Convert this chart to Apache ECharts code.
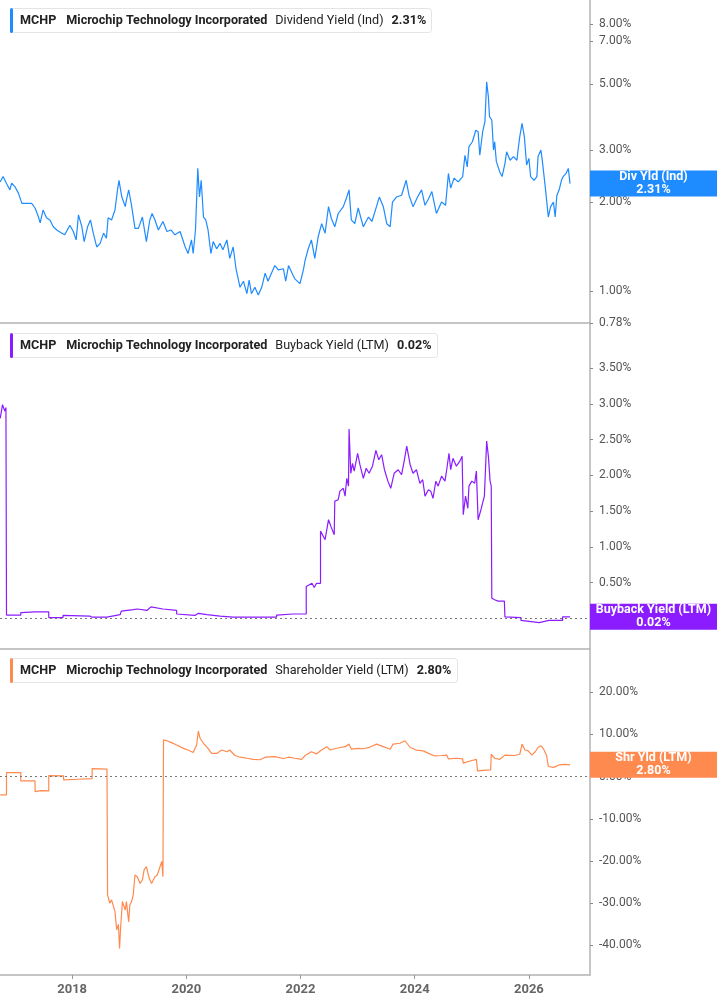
<!DOCTYPE html>
<html><head><meta charset="utf-8">
<script src="https://cdn.jsdelivr.net/npm/echarts@6/dist/echarts.min.js"></script>
<style>html,body{margin:0;padding:0;background:#fff}#c{width:717px;height:1005px}</style>
</head><body><div id="c"></div>
<script>
// ---------- data ----------
const xTickYears = [2018, 2020, 2022, 2024, 2026];
const divTicks = [0.78, 1, 2, 3, 5, 7, 8];
const buyTicks = [0, 0.5, 1, 1.5, 2, 2.5, 3, 3.5];
const shrTicks = [-40, -30, -20, -10, 0, 10, 20];

const ticker = 'MCHP';
const company = 'Microchip Technology Incorporated';
const metricNames = ['Dividend Yield (Ind)', 'Buyback Yield (LTM)', 'Shareholder Yield (LTM)'];
const badgeNames = ['Div Yld (Ind)', 'Buyback Yield (LTM)', 'Shr Yld (LTM)'];

// [decimal year, %]
const divSeries = [[2016.74,2.34],[2016.79,2.44],[2016.85,2.31],[2016.91,2.20],[2016.94,2.32],[2017.00,2.25],[2017.06,2.14],[2017.12,1.98],[2017.20,1.98],[2017.29,1.98],[2017.35,1.91],[2017.41,1.78],[2017.44,1.70],[2017.49,1.88],[2017.55,1.77],[2017.61,1.74],[2017.67,1.65],[2017.73,1.61],[2017.82,1.57],[2017.87,1.55],[2017.96,1.67],[2018.02,1.59],[2018.07,1.49],[2018.11,1.81],[2018.17,1.65],[2018.21,1.47],[2018.27,1.65],[2018.32,1.74],[2018.37,1.57],[2018.43,1.41],[2018.49,1.45],[2018.55,1.57],[2018.60,1.51],[2018.63,1.77],[2018.69,1.74],[2018.75,1.88],[2018.79,2.17],[2018.82,2.37],[2018.87,2.08],[2018.93,1.93],[2018.95,2.03],[2018.99,2.20],[2019.04,1.95],[2019.10,1.63],[2019.16,1.63],[2019.23,1.78],[2019.30,1.47],[2019.36,1.74],[2019.40,1.83],[2019.45,1.74],[2019.51,1.61],[2019.59,1.72],[2019.66,1.59],[2019.73,1.61],[2019.80,1.55],[2019.89,1.59],[2019.98,1.41],[2020.03,1.34],[2020.09,1.49],[2020.12,1.34],[2020.16,1.61],[2020.20,2.60],[2020.23,2.08],[2020.26,2.37],[2020.30,1.78],[2020.34,1.74],[2020.38,1.61],[2020.43,1.34],[2020.47,1.47],[2020.53,1.39],[2020.59,1.45],[2020.64,1.38],[2020.71,1.49],[2020.76,1.29],[2020.82,1.41],[2020.87,1.19],[2020.94,1.03],[2021.00,1.08],[2021.06,0.98],[2021.10,1.09],[2021.14,0.98],[2021.20,1.03],[2021.26,0.97],[2021.32,1.03],[2021.38,1.15],[2021.43,1.08],[2021.49,1.15],[2021.55,1.22],[2021.61,1.18],[2021.70,1.19],[2021.74,1.08],[2021.79,1.22],[2021.87,1.13],[2021.90,1.10],[2021.99,1.06],[2022.05,1.18],[2022.08,1.27],[2022.13,1.38],[2022.19,1.49],[2022.25,1.29],[2022.31,1.53],[2022.37,1.69],[2022.43,1.57],[2022.49,1.93],[2022.54,1.76],[2022.60,1.65],[2022.66,1.83],[2022.75,1.93],[2022.81,2.08],[2022.85,2.20],[2022.89,1.74],[2022.95,1.69],[2023.01,1.91],[2023.10,1.65],[2023.19,1.78],[2023.25,1.72],[2023.33,1.93],[2023.38,2.08],[2023.45,1.93],[2023.51,1.69],[2023.57,1.65],[2023.61,2.00],[2023.68,2.08],[2023.77,2.11],[2023.85,2.37],[2023.90,2.11],[2023.97,1.93],[2024.05,2.08],[2024.12,2.20],[2024.18,1.95],[2024.24,2.05],[2024.30,2.17],[2024.38,1.83],[2024.47,2.00],[2024.54,1.95],[2024.59,2.50],[2024.63,2.23],[2024.69,2.41],[2024.76,2.34],[2024.84,2.44],[2024.88,2.88],[2024.92,2.63],[2024.95,3.08],[2025.01,3.20],[2025.07,3.50],[2025.11,3.46],[2025.14,2.88],[2025.19,3.46],[2025.23,3.74],[2025.26,5.10],[2025.29,4.54],[2025.31,3.89],[2025.35,3.79],[2025.38,3.00],[2025.40,3.20],[2025.43,2.74],[2025.49,2.53],[2025.53,2.44],[2025.58,2.70],[2025.61,2.96],[2025.67,2.77],[2025.73,2.85],[2025.79,2.77],[2025.81,3.00],[2025.84,3.33],[2025.88,3.69],[2025.92,3.33],[2025.96,2.67],[2026.00,2.81],[2026.03,2.44],[2026.09,2.37],[2026.14,2.44],[2026.16,2.85],[2026.21,3.00],[2026.23,2.81],[2026.28,2.31],[2026.31,2.03],[2026.34,1.78],[2026.38,1.93],[2026.43,2.00],[2026.46,1.78],[2026.49,2.11],[2026.53,2.20],[2026.57,2.37],[2026.60,2.44],[2026.65,2.50],[2026.69,2.60],[2026.72,2.31]];

const buybackSeries = [[2016.74,2.80],[2016.78,2.99],[2016.82,2.90],[2016.84,2.95],[2016.85,0.045],[2017.10,0.045],[2017.10,0.08],[2017.35,0.09],[2017.59,0.09],[2017.59,0.01],[2017.84,0.01],[2017.84,0.04],[2018.31,0.03],[2018.35,0.015],[2018.61,0.015],[2018.61,0.04],[2018.84,0.05],[2018.86,0.10],[2019.07,0.12],[2019.14,0.13],[2019.31,0.11],[2019.38,0.16],[2019.59,0.13],[2019.83,0.11],[2019.83,0.06],[2020.15,0.04],[2020.21,0.07],[2020.36,0.05],[2020.59,0.03],[2020.82,0.015],[2021.58,0.015],[2021.58,0.045],[2021.87,0.06],[2022.10,0.06],[2022.10,0.445],[2022.20,0.49],[2022.24,0.43],[2022.28,0.49],[2022.35,0.49],[2022.35,1.22],[2022.43,1.10],[2022.49,1.38],[2022.53,1.29],[2022.59,1.17],[2022.60,1.64],[2022.66,1.66],[2022.69,1.78],[2022.75,1.82],[2022.78,1.71],[2022.81,1.96],[2022.84,1.85],[2022.85,2.65],[2022.88,2.03],[2022.91,2.17],[2022.94,2.06],[2023.00,2.31],[2023.04,2.15],[2023.10,1.96],[2023.15,2.10],[2023.20,2.03],[2023.26,2.13],[2023.32,2.35],[2023.37,2.22],[2023.42,2.29],[2023.47,2.08],[2023.53,1.92],[2023.58,1.82],[2023.64,2.03],[2023.71,2.08],[2023.77,2.01],[2023.82,2.22],[2023.86,2.41],[2023.92,2.15],[2023.97,2.03],[2024.03,2.08],[2024.09,1.89],[2024.14,1.94],[2024.18,1.71],[2024.24,1.80],[2024.28,1.78],[2024.32,1.68],[2024.37,1.92],[2024.41,1.85],[2024.47,1.99],[2024.53,1.92],[2024.56,2.08],[2024.60,2.31],[2024.63,2.08],[2024.67,2.24],[2024.73,2.13],[2024.79,2.20],[2024.83,2.27],[2024.85,1.45],[2024.89,1.71],[2024.93,1.54],[2024.95,1.85],[2025.00,1.92],[2025.05,1.89],[2025.08,2.06],[2025.11,1.38],[2025.16,1.52],[2025.22,1.71],[2025.26,2.48],[2025.29,2.27],[2025.32,1.92],[2025.34,1.85],[2025.35,0.28],[2025.40,0.26],[2025.46,0.24],[2025.57,0.24],[2025.58,0.02],[2025.86,0.01],[2025.86,-0.03],[2026.18,-0.06],[2026.35,-0.03],[2026.59,-0.03],[2026.59,0.02],[2026.72,0.02]];

const shareholderSeries = [[2016.74,-4.34],[2016.85,-4.34],[2016.85,0.95],[2017.10,0.95],[2017.10,-1.03],[2017.35,-1.03],[2017.35,-3.55],[2017.45,-3.3],[2017.59,-3.4],[2017.59,0.24],[2017.85,0.16],[2017.85,-0.79],[2018.10,-0.62],[2018.35,-0.47],[2018.35,1.9],[2018.61,1.8],[2018.62,-28.0],[2018.66,-30.0],[2018.69,-29.2],[2018.75,-32.0],[2018.78,-36.3],[2018.81,-35.0],[2018.83,-40.7],[2018.85,-35.5],[2018.88,-29.6],[2018.93,-31.6],[2018.95,-29.6],[2018.99,-34.4],[2019.01,-30.4],[2019.04,-29.6],[2019.07,-28.0],[2019.10,-23.3],[2019.14,-23.7],[2019.19,-25.3],[2019.23,-24.5],[2019.26,-22.1],[2019.30,-21.3],[2019.35,-24.1],[2019.39,-25.3],[2019.45,-23.7],[2019.49,-23.3],[2019.54,-21.3],[2019.57,-20.1],[2019.59,-23.7],[2019.60,8.69],[2019.66,8.5],[2019.74,8.06],[2019.83,7.5],[2019.95,6.7],[2020.03,6.3],[2020.12,5.7],[2020.18,7.5],[2020.21,10.8],[2020.24,9.1],[2020.30,7.9],[2020.38,6.7],[2020.44,5.5],[2020.53,5.5],[2020.62,6.3],[2020.71,5.9],[2020.76,6.3],[2020.85,5.0],[2020.94,4.6],[2021.06,4.35],[2021.17,4.1],[2021.29,4.0],[2021.38,4.6],[2021.55,4.75],[2021.70,4.3],[2021.79,4.6],[2021.90,4.35],[2022.02,4.1],[2022.08,5.0],[2022.19,5.9],[2022.28,5.4],[2022.37,6.3],[2022.46,7.1],[2022.52,6.3],[2022.60,6.6],[2022.69,6.9],[2022.78,7.1],[2022.85,7.7],[2022.89,6.5],[2023.01,6.7],[2023.10,6.6],[2023.22,7.0],[2023.33,7.7],[2023.45,7.1],[2023.57,6.5],[2023.62,7.7],[2023.74,7.9],[2023.83,8.5],[2023.92,6.9],[2024.03,6.3],[2024.15,6.1],[2024.24,5.5],[2024.35,4.9],[2024.47,5.0],[2024.56,5.1],[2024.59,4.2],[2024.73,4.35],[2024.84,4.2],[2024.85,3.2],[2024.97,3.7],[2025.08,4.1],[2025.10,1.35],[2025.20,1.5],[2025.33,1.6],[2025.34,5.3],[2025.40,4.35],[2025.49,4.1],[2025.58,5.1],[2025.75,5.0],[2025.84,5.3],[2025.88,7.7],[2025.93,6.3],[2025.99,6.1],[2026.05,5.1],[2026.11,5.9],[2026.16,6.9],[2026.21,7.3],[2026.25,6.7],[2026.31,5.0],[2026.34,2.4],[2026.43,2.2],[2026.54,2.8],[2026.63,2.9],[2026.72,2.8]];

// ---------- chart ----------
const X_MIN = 2016.736, X_MAX = 2027.07;
const COLORS = ['#1e8bff', '#8a1cff', '#ff8a4f'];
const FONT = 'Roboto';
const AXIS_COLOR = '#b3b3b3';
const LEG_FS = 12.6;
const pct = v => v.toFixed(2) + '%';
const lastVal = s => s[s.length - 1][1];
const lasts = [lastVal(divSeries), lastVal(buybackSeries), lastVal(shareholderSeries)];

function xAxis(i, show) {
  return {
    type: 'value', gridIndex: i, min: X_MIN, max: X_MAX,
    splitLine: { show: false },
    axisLine: { show: true, onZero: false, lineStyle: { color: AXIS_COLOR, width: 1.5 } },
    axisTick: { show: show, customValues: xTickYears, length: 4, lineStyle: { color: '#999' } },
    axisLabel: { show: show, customValues: xTickYears, formatter: v => String(Math.round(v)),
      color: '#666', fontWeight: 'bold', fontSize: 13, margin: 8, fontFamily: FONT }
  };
}
function yAxis(i, min, max, ticks, fmt) {
  return {
    type: 'value', gridIndex: i, position: 'right', min: min, max: max,
    splitLine: { show: false },
    axisLine: { show: true, onZero: false, lineStyle: { color: AXIS_COLOR, width: 1.5 } },
    axisTick: { show: true, customValues: ticks, length: 3, lineStyle: { color: '#888' } },
    axisLabel: { customValues: ticks, formatter: fmt, color: '#555', fontSize: 12, margin: 9, fontFamily: FONT }
  };
}
function legendTitle(i, top) {
  const base = { fontFamily: FONT, fontSize: LEG_FS, color: '#222', lineHeight: 25 };
  return {
    left: 10, top: top, padding: [0, 6, 0, 0],
    backgroundColor: '#fff', borderColor: '#e4e4e4', borderWidth: 1, borderRadius: 3,
    text: '{bar| }{t|' + ticker + '}{n|' + company + '}{m|' + metricNames[i] + '}{v|' + pct(lasts[i]) + '}',
    textStyle: {
      fontFamily: FONT, fontSize: LEG_FS, fontWeight: 'normal', color: '#222',
      rich: {
        bar: { width: 3, height: 25, backgroundColor: COLORS[i], borderRadius: 2 },
        t: Object.assign({}, base, { fontWeight: 'bold', padding: [0, 10, 0, 7] }),
        n: Object.assign({}, base, { fontWeight: 'bold', padding: [0, 8, 0, 0] }),
        m: Object.assign({}, base, { fontWeight: 'normal', padding: [0, 8, 0, 0] }),
        v: Object.assign({}, base, { fontWeight: 'bold' })
      }
    }
  };
}
function lineSeries(i, data) {
  return {
    type: 'line', xAxisIndex: i, yAxisIndex: i, data: data,
    showSymbol: false, symbol: 'none', animation: false,
    lineStyle: { color: COLORS[i], width: 1.2 }, itemStyle: { color: COLORS[i] }
  };
}
const zeroLine = {
  silent: true, symbol: 'none', label: { show: false }, animation: false,
  lineStyle: { color: '#777', type: [2, 3], width: 1 },
  data: [{ yAxis: 0 }]
};

const log10 = Math.log10;
const chart = echarts.init(document.getElementById('c'), null, { renderer: 'canvas' });
const s1 = lineSeries(0, divSeries.map(d => [d[0], log10(d[1])]));
const s2 = Object.assign(lineSeries(1, buybackSeries), { markLine: zeroLine });
const s3 = Object.assign(lineSeries(2, shareholderSeries), { markLine: zeroLine });

chart.setOption({
  animation: false,
  backgroundColor: '#fff',
  textStyle: { fontFamily: FONT },
  title: [legendTitle(0, 8), legendTitle(1, 333), legendTitle(2, 658)],
  grid: [
    { left: 0, right: 127, top: 0, height: 323 },
    { left: 0, right: 127, top: 324, height: 325 },
    { left: 0, right: 127, top: 650, height: 325 }
  ],
  xAxis: [xAxis(0, false), xAxis(1, false), xAxis(2, true)],
  yAxis: [
    yAxis(0, log10(0.78), 0.9845, divTicks.map(log10), v => pct(Math.pow(10, v))),
    yAxis(1, -0.43, 4.12, buyTicks, v => pct(v)),
    yAxis(2, -47, 30, shrTicks, v => pct(v))
  ],
  series: [s1, s2, s3]
});

// value badges at the right axis, placed through the axis scales
const badgeVals = [log10(lasts[0]), lasts[1], lasts[2]];
const graphics = [];
badgeVals.forEach((v, i) => {
  const y = chart.convertToPixel({ yAxisIndex: i }, v);
  const x = chart.convertToPixel({ xAxisIndex: i }, X_MAX);
  const w = chart.getWidth() - x;
  graphics.push({ type: 'rect', z: 100, shape: { x: x, y: y - 13, width: w, height: 26 }, style: { fill: COLORS[i] } });
  graphics.push({ type: 'text', z: 101, x: x + w / 2, y: y,
    style: { text: badgeNames[i] + '\n' + pct(lasts[i]), fill: '#fff', font: 'bold 12.5px ' + FONT,
      align: 'center', verticalAlign: 'middle', lineHeight: 13 } });
});
chart.setOption({ graphic: graphics });
</script>
</body></html>
